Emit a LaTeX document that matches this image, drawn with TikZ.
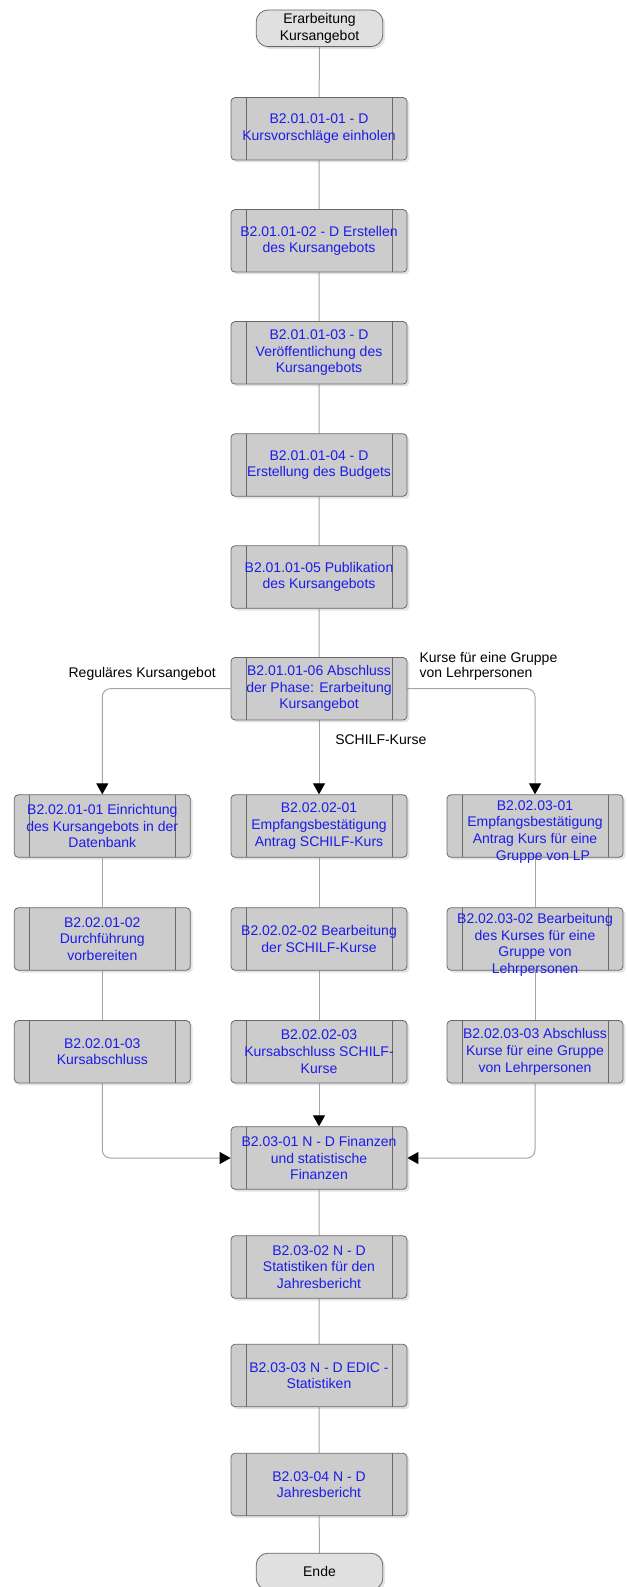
\documentclass[tikz,border=0pt]{standalone}
\usepackage{fontspec}
\setmainfont{Liberation Sans}
\usetikzlibrary{arrows.meta,shadows,backgrounds}
\definecolor{boxfill}{RGB}{204,204,204}
\definecolor{boxline}{RGB}{105,105,105}
\definecolor{txtblue}{RGB}{28,28,232}
\definecolor{connc}{RGB}{165,165,165}
\definecolor{termfill}{RGB}{224,224,224}
\tikzset{
  proc/.style={draw=boxline, fill=boxfill, rounded corners=3pt,
    minimum width=132pt, minimum height=46.9pt, inner sep=0pt,
    text=txtblue, align=center, line width=0.6pt,
    font=\fontsize{10.5pt}{12.5pt}\selectfont,
    drop shadow={shadow xshift=1.8pt, shadow yshift=-1.8pt, opacity=0.22},
    path picture={\draw[boxline, line width=0.6pt]
      ([xshift=11.25pt]path picture bounding box.north west) -- ([xshift=11.25pt]path picture bounding box.south west)
      ([xshift=-11.25pt]path picture bounding box.north east) -- ([xshift=-11.25pt]path picture bounding box.south east);}},
  proctext/.style={inner sep=0pt, text=txtblue, align=center,
    font=\fontsize{10.5pt}{12.5pt}\selectfont},
  term/.style={draw=boxline, fill=termfill, rounded corners=9pt,
    minimum width=95pt, minimum height=27.5pt, inner sep=0pt,
    align=center, line width=0.6pt,
    font=\fontsize{10.5pt}{12.5pt}\selectfont,
    drop shadow={shadow xshift=1.8pt, shadow yshift=-1.8pt, opacity=0.22}},
  conn/.style={draw=connc, line width=0.75pt, rounded corners=6pt},
  arr/.style={conn, -{Triangle[length=8.25pt,width=9pt,color=black,fill=black]}},
  lbl/.style={font=\fontsize{10.5pt}{11.25pt}\selectfont, inner sep=0pt, text=black}
}
\begin{document}
\begin{tikzpicture}[x=0.75pt,y=-0.75pt]
\useasboundingbox (0,0) rectangle (627,1587);

\node[term] (start) at (319.5,28.3) {Erarbeitung\\Kursangebot};
\node[proc] (b1) at (319,128.8) {B2.01.01-01 - D\\Kursvorschläge einholen};
\node[proc] (b2) at (319,240.8) {B2.01.01-02 - D Erstellen\\des Kursangebots};
\node[proc] (b3) at (319,352.8) {B2.01.01-03 - D\\Veröffentlichung des\\Kursangebots};
\node[proc] (b4) at (319,465) {B2.01.01-04 - D\\Erstellung des Budgets};
\node[proc] (b5) at (319,577) {B2.01.01-05 Publikation\\des Kursangebots};
\node[proc] (b6) at (319,688.7) {B2.01.01-06 Abschluss\\der Phase: Erarbeitung\\Kursangebot};

\node[proc] (l1) at (102.3,826) {B2.02.01-01 Einrichtung\\des Kursangebots in der\\Datenbank};
\node[proc] (c1) at (319,826) {B2.02.02-01\\Empfangsbestätigung\\Antrag SCHILF-Kurs};
\node[proc] (r1) at (535,826) {};
\node[proctext] (r1t) at ([yshift=-4.3pt]r1.center) {B2.02.03-01\\Empfangsbestätigung\\Antrag Kurs für eine\\\hspace*{12pt}Gruppe von LP};

\node[proc] (l2) at (102.3,939) {B2.02.01-02\\Durchführung\\vorbereiten};
\node[proc] (c2) at (319,939) {B2.02.02-02 Bearbeitung\\der SCHILF-Kurse};
\node[proc] (r2) at (535,939) {};
\node[proctext] (r2t) at ([yshift=-4.3pt]r2.center) {B2.02.03-02 Bearbeitung\\des Kurses für eine\\Gruppe von\\Lehrpersonen};

\node[proc] (l3) at (102.3,1051.8) {B2.02.01-03\\Kursabschluss};
\node[proc] (c3) at (319,1051.8) {B2.02.02-03\\Kursabschluss SCHILF-\\Kurse};
\node[proc] (r3) at (535,1051.8) {B2.02.03-03 Abschluss\\Kurse für eine Gruppe\\von Lehrpersonen};

\node[proc] (f) at (319,1158) {B2.03-01 N - D Finanzen\\und statistische\\Finanzen};
\node[proc] (s2) at (319,1267) {B2.03-02 N - D\\Statistiken für den\\Jahresbericht};
\node[proc] (s3) at (319,1375.5) {B2.03-03 N - D EDIC -\\Statistiken};
\node[proc] (s4) at (319,1484.5) {B2.03-04 N - D\\Jahresbericht};
\node[term] (ende) at (319.5,1571.5) {Ende};

\node[lbl, anchor=east] (la) at (216,674.3) {Reguläres Kursangebot};
\node[lbl, anchor=west] (lb) at (335,739.3) {SCHILF-Kurse};
\node[lbl, anchor=west, align=left] (lc) at (419.3,666.8) {Kurse für eine Gruppe\\von Lehrpersonen};

\begin{pgfonlayer}{background}
\fill[white] (0,0) rectangle (627,1587);
\draw[conn] (start) -- (b1) -- (b2) -- (b3) -- (b4) -- (b5) -- (b6);
\draw[arr] (b6.west) -| (l1.north);
\draw[arr] (b6.south) -- (c1.north);
\draw[arr] (b6.east) -| (r1.north);
\draw[conn] (l1) -- (l2) -- (l3);
\draw[conn] (c1) -- (c2) -- (c3);
\draw[conn] (r1) -- (r2) -- (r3);
\draw[arr] (l3.south) |- (f.west);
\draw[arr] (c3.south) -- (f.north);
\draw[arr] (r3.south) |- (f.east);
\draw[conn] (f) -- (s2) -- (s3) -- (s4) -- (ende);
\end{pgfonlayer}
\end{tikzpicture}
\end{document}
